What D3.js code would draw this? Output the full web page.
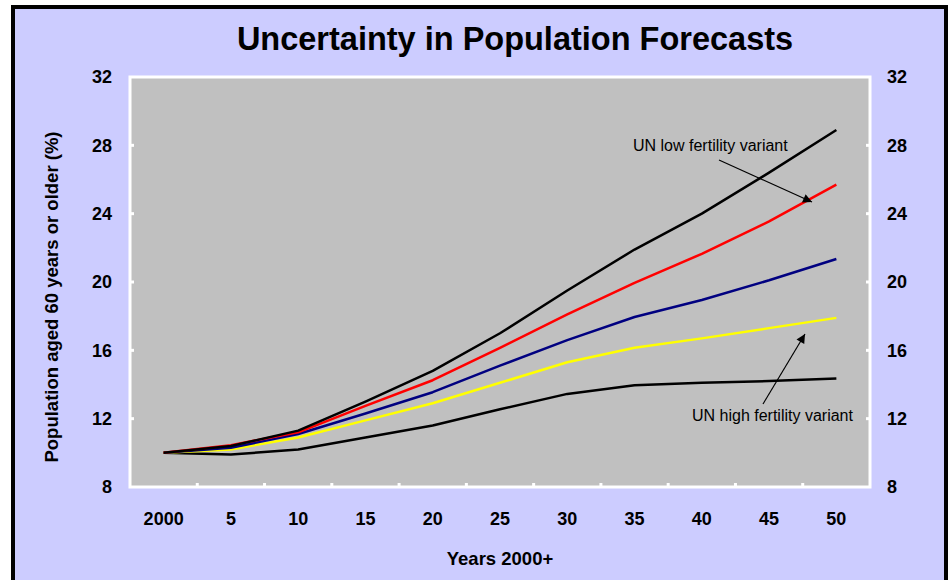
<!DOCTYPE html>
<html>
<head>
<meta charset="utf-8">
<script src="https://cdn.jsdelivr.net/npm/d3@7"></script>
<style>
  html, body { margin: 0; padding: 0; background: #fff; }
  svg { display: block; font-family: Arial, "Liberation Sans", sans-serif; }
</style>
</head>
<body>
<svg id="chart" width="948" height="580"></svg>
<script>
// Years after 2000 (category labels on the x axis)
const years = ["2000", "5", "10", "15", "20", "25", "30", "35", "40", "45", "50"];
const yTicks = [8, 12, 16, 20, 24, 28, 32];

// Share of population aged 60+ (%), one array per forecast
const upperBlack = [10.0, 10.4, 11.3, 13.0, 14.8, 17.0, 19.5, 21.9, 24.0, 26.4, 28.9];
const redSeries  = [10.0, 10.45, 11.2, 12.75, 14.25, 16.15, 18.1, 19.95, 21.65, 23.55, 25.7];
const blueSeries = [10.0, 10.3, 11.1, 12.3, 13.55, 15.1, 16.6, 17.95, 18.95, 20.1, 21.35];
const yellowSeries = [10.0, 10.2, 10.9, 11.9, 12.9, 14.1, 15.3, 16.15, 16.7, 17.3, 17.9];
const lowerBlack = [10.0, 9.9, 10.2, 10.9, 11.6, 12.55, 13.45, 13.95, 14.1, 14.2, 14.35];

const series = [
  { values: lowerBlack, color: "#000000" },
  { values: yellowSeries, color: "#FFFF00" },
  { values: blueSeries, color: "#000080" },
  { values: redSeries, color: "#FF0000" },
  { values: upperBlack, color: "#000000" }
];

const svg = d3.select("#chart");
const FONT = "Arial, 'Liberation Sans', sans-serif";

// Outer frame
svg.append("rect")
  .attr("x", 13).attr("y", 7).attr("width", 933).attr("height", 600)
  .attr("fill", "#CCCCFF").attr("stroke", "#000").attr("stroke-width", 4);

const plot = { left: 130, right: 870, top: 77, bottom: 487 };

const x = d3.scaleBand().domain(years).range([plot.left, plot.right]);
const y = d3.scaleLinear().domain([8, 32]).range([plot.bottom, plot.top]);

// Plot background with white border
svg.append("rect")
  .attr("x", plot.left).attr("y", plot.top)
  .attr("width", plot.right - plot.left).attr("height", plot.bottom - plot.top)
  .attr("fill", "#C0C0C0").attr("stroke", "#FFFFFF").attr("stroke-width", 3);

// Title
svg.append("text")
  .attr("x", 515).attr("y", 50)
  .attr("text-anchor", "middle")
  .attr("font-size", 32.5).attr("font-weight", "bold")
  .text("Uncertainty in Population Forecasts");

// Left and right y axes: labels outside, white ticks inside
const leftAxis = d3.axisLeft(y).tickValues(yTicks).tickSize(0).tickPadding(18);
const gl = svg.append("g").attr("transform", `translate(${plot.left},0)`).call(leftAxis);
const rightAxis = d3.axisRight(y).tickValues(yTicks).tickSize(0).tickPadding(17);
const gr = svg.append("g").attr("transform", `translate(${plot.right},0)`).call(rightAxis);
[gl, gr].forEach(g => {
  g.select(".domain").remove();
  g.selectAll("text").attr("font-size", 18).attr("font-weight", "bold")
    .attr("font-family", FONT).attr("fill", "#000");
});

// White inner ticks on y axes
const innerY = yTicks.filter(v => v > 8 && v < 32);
svg.append("g").selectAll("line").data(innerY).join("line")
  .attr("x1", plot.left).attr("x2", plot.left + 4)
  .attr("y1", d => y(d)).attr("y2", d => y(d))
  .attr("stroke", "#fff").attr("stroke-width", 3);
svg.append("g").selectAll("line").data(innerY).join("line")
  .attr("x1", plot.right - 4).attr("x2", plot.right)
  .attr("y1", d => y(d)).attr("y2", d => y(d))
  .attr("stroke", "#fff").attr("stroke-width", 3);

// X axis labels
const bottomAxis = d3.axisBottom(x).tickSize(0).tickPadding(25);
const gb = svg.append("g").attr("transform", `translate(0,${plot.bottom})`).call(bottomAxis);
gb.select(".domain").remove();
gb.selectAll("text").attr("font-size", 18).attr("font-weight", "bold")
  .attr("font-family", FONT).attr("fill", "#000");

// White ticks between categories
svg.append("g").selectAll("line").data(years.slice(1)).join("line")
  .attr("x1", d => x(d)).attr("x2", d => x(d))
  .attr("y1", plot.bottom - 4).attr("y2", plot.bottom)
  .attr("stroke", "#fff").attr("stroke-width", 3);

// Axis titles
svg.append("text")
  .attr("x", 500).attr("y", 565)
  .attr("text-anchor", "middle")
  .attr("font-size", 18.5).attr("font-weight", "bold")
  .text("Years 2000+");

svg.append("text")
  .attr("transform", "translate(58,297) rotate(-90)")
  .attr("text-anchor", "middle")
  .attr("font-size", 18.5).attr("font-weight", "bold")
  .text("Population aged 60 years or older (%)");

// Forecast lines
const line = d3.line()
  .x((d, i) => x(years[i]) + x.bandwidth() / 2)
  .y(d => y(d));

svg.append("g").selectAll("path").data(series).join("path")
  .attr("d", d => line(d.values))
  .attr("fill", "none")
  .attr("stroke", d => d.color)
  .attr("stroke-width", 2.5)
  .attr("stroke-linejoin", "round");

// Annotation arrows
const defs = svg.append("defs");
defs.append("marker")
  .attr("id", "arrow")
  .attr("viewBox", "0 0 10 10")
  .attr("refX", 10).attr("refY", 5)
  .attr("markerWidth", 11).attr("markerHeight", 9)
  .attr("markerUnits", "userSpaceOnUse")
  .attr("orient", "auto")
  .append("path").attr("d", "M0,0 L10,5 L0,10 Z").attr("fill", "#000");

svg.append("line")
  .attr("x1", 719).attr("y1", 160).attr("x2", 812).attr("y2", 202)
  .attr("stroke", "#000").attr("stroke-width", 1.2)
  .attr("marker-end", "url(#arrow)");
svg.append("text")
  .attr("x", 633).attr("y", 151)
  .attr("font-size", 16)
  .text("UN low fertility variant");

svg.append("line")
  .attr("x1", 763).attr("y1", 404).attr("x2", 805).attr("y2", 334)
  .attr("stroke", "#000").attr("stroke-width", 1.2)
  .attr("marker-end", "url(#arrow)");
svg.append("text")
  .attr("x", 692).attr("y", 421)
  .attr("font-size", 16)
  .text("UN high fertility variant");
</script>
</body>
</html>
